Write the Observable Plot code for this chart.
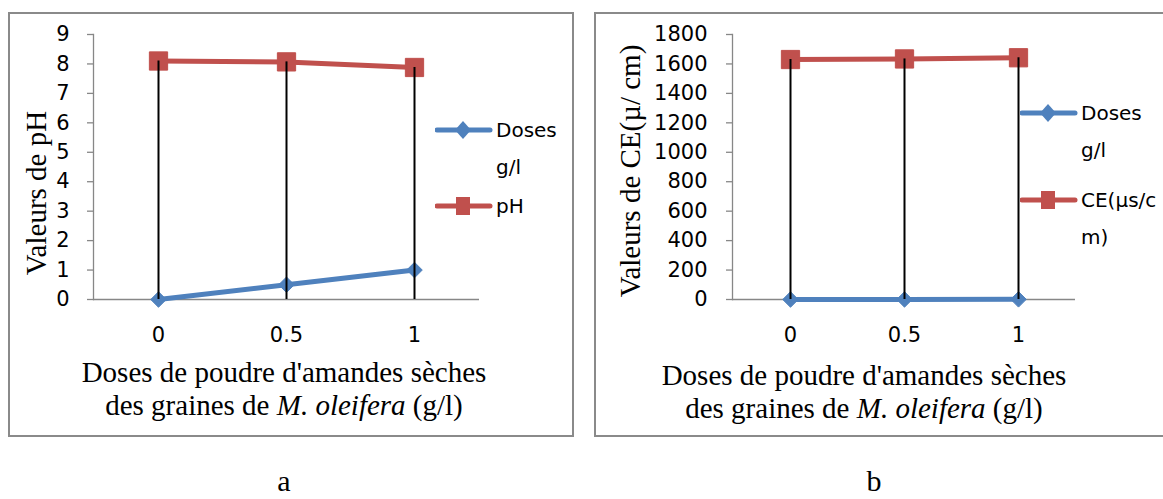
<!DOCTYPE html>
<html>
<head>
<meta charset="utf-8">
<script src="https://cdn.jsdelivr.net/npm/d3@7"></script>
<script src="https://cdn.jsdelivr.net/npm/@observablehq/plot@0.6"></script>
<style>
  html, body { margin: 0; padding: 0; background: #fff; }
  body { width: 1163px; height: 499px; position: relative; overflow: hidden; }
  .box { position: absolute; border: 2px solid #8a8a8a; box-sizing: border-box; }
  .chart { position: absolute; top: 0; }
  .serif { position: absolute; font-family: "Liberation Serif", "Times New Roman", serif; font-size: 29px; color: #000; white-space: nowrap; line-height: 1; transform: translate(-50%, -50%); }
  .ytitle { position: absolute; font-family: "Liberation Serif", "Times New Roman", serif; font-size: 29px; color: #000; white-space: nowrap; line-height: 1; transform: translate(-50%, -50%) rotate(-90deg); }
  .leg { position: absolute; font-family: "DejaVu Sans", sans-serif; font-size: 20px; color: #000; white-space: nowrap; line-height: 1; transform: translateY(-50%); }
  .sw { position: absolute; transform: translateY(-50%); }
  .tag { position: absolute; font-family: "Liberation Serif", "Times New Roman", serif; font-size: 30px; color: #000; line-height: 1; transform: translateX(-50%); }
</style>
</head>
<body>
<div class="box" style="left:8px;top:12px;width:566px;height:425px;"></div>
<div class="box" style="left:594px;top:12px;width:600px;height:425px;"></div>
<div id="chartA" class="chart" style="left:0px;"></div>
<div id="chartB" class="chart" style="left:580px;"></div>

<div class="ytitle" style="left:36px;top:193px;">Valeurs de pH</div>
<div class="ytitle" style="left:630px;top:171px;">Valeurs de CE(µ/ cm)</div>

<div class="serif" style="left:284px;top:372px;">Doses de poudre d'amandes sèches</div>
<div class="serif" style="left:284px;top:405px;">des graines de <i>M. oleifera</i> (g/l)</div>
<div class="serif" style="left:864px;top:375px;">Doses de poudre d'amandes sèches</div>
<div class="serif" style="left:864px;top:408px;">des graines de <i>M. oleifera</i> (g/l)</div>

<div id="legends"></div>

<div class="tag" style="left:284px;top:466px;">a</div>
<div class="tag" style="left:874px;top:466px;">b</div>

<script>
// ---- data ----
const doseCategories = ["0", "0.5", "1"];
const dosesSeries = [0, 0.5, 1];          // "Doses g/l" series (both panels)
const pHValues = [8.1, 8.07, 7.88];       // panel a
const ceValues = [1630, 1634, 1642];      // panel b
const yTicksA = [0, 1, 2, 3, 4, 5, 6, 7, 8, 9];
const yTicksB = [0, 200, 400, 600, 800, 1000, 1200, 1400, 1600, 1800];
const seriesNamesA = ["Doses\ng/l", "pH"];
const seriesNamesB = ["Doses\ng/l", "CE(µs/c\nm)"];

const BLUE = "#4f81bd";
const RED = "#c0504d";
const GRAY = "#878787";

const tableA = doseCategories.map((d, i) => ({dose: d, doses: dosesSeries[i], value: pHValues[i]}));
const tableB = doseCategories.map((d, i) => ({dose: d, doses: dosesSeries[i], value: ceValues[i]}));

function panel(table, yDomain, yTicks, opts) {
  return Plot.plot({
    width: opts.width,
    height: 440,
    marginLeft: opts.marginLeft,
    marginRight: opts.marginRight,
    marginTop: 34,
    marginBottom: 141,
    x: {type: "band", domain: doseCategories, padding: 0, axis: null},
    y: {domain: yDomain, axis: null},
    style: {fontFamily: "'DejaVu Sans', sans-serif", fontSize: "21px", color: "#000", background: "transparent", overflow: "visible"},
    marks: [
      Plot.frame({anchor: "left", stroke: GRAY, strokeWidth: 1.3}),
      Plot.ruleY([0], {stroke: GRAY, strokeWidth: 1.3}),
      Plot.axisY({ticks: yTicks, tickSize: 6, tickPadding: opts.tickPadding, stroke: GRAY, strokeWidth: 1.3, fontSize: 21, label: null, tickFormat: d => String(d)}),
      Plot.axisX({tickSize: 0, tickPadding: 28, fontSize: 21, label: null}),
      Plot.line(table, {x: "dose", y: "doses", stroke: BLUE, strokeWidth: 5}),
      Plot.line(table, {x: "dose", y: "value", stroke: RED, strokeWidth: 5}),
      Plot.dot(table, {x: "dose", y: "doses", symbol: "diamond2", r: 7, fill: BLUE, stroke: BLUE, strokeWidth: 1}),
      Plot.dot(table, {x: "dose", y: "value", symbol: "square", r: 10.3, fill: RED, stroke: RED, strokeWidth: 1}),
      Plot.ruleX(table, {x: "dose", y1: 0, y2: "value", stroke: "#000", strokeWidth: 2})
    ]
  });
}

document.getElementById("chartA").append(
  panel(tableA, [0, 9], yTicksA, {width: 580, marginLeft: 93, marginRight: 101, tickPadding: 18})
);
document.getElementById("chartB").append(
  panel(tableB, [0, 1800], yTicksB, {width: 583, marginLeft: 152, marginRight: 88, tickPadding: 19})
);

// ---- legends (HTML) ----
function swatch(x, y, color, kind) {
  const ns = "http://www.w3.org/2000/svg";
  const svg = document.createElementNS(ns, "svg");
  svg.setAttribute("width", 58); svg.setAttribute("height", 22);
  svg.setAttribute("class", "sw");
  svg.style.left = x + "px"; svg.style.top = y + "px";
  const line = document.createElementNS(ns, "line");
  line.setAttribute("x1", 2); line.setAttribute("x2", 55); line.setAttribute("y1", 11); line.setAttribute("y2", 11);
  line.setAttribute("stroke", color); line.setAttribute("stroke-width", 5); line.setAttribute("stroke-linecap", "round");
  svg.append(line);
  let m;
  if (kind === "diamond") {
    m = document.createElementNS(ns, "path");
    m.setAttribute("d", "M28,2 L36,11 L28,20 L20,11 Z");
  } else {
    m = document.createElementNS(ns, "rect");
    m.setAttribute("x", 21); m.setAttribute("y", 2); m.setAttribute("width", 14); m.setAttribute("height", 18);
  }
  m.setAttribute("fill", color);
  svg.append(m);
  document.getElementById("legends").append(svg);
}
function legText(x, y, txt) {
  const d = document.createElement("div");
  d.className = "leg";
  d.style.left = x + "px"; d.style.top = y + "px";
  d.textContent = txt;
  document.getElementById("legends").append(d);
}
function legend(entries, x, ys, lineGap) {
  entries.forEach((e, i) => {
    swatch(x - 1, ys[i], e.color, e.kind);
    e.name.split("\n").forEach((ln, j) => legText(x + 60, ys[i] + j * lineGap, ln));
  });
}
legend([{name: seriesNamesA[0], color: BLUE, kind: "diamond"}, {name: seriesNamesA[1], color: RED, kind: "square"}], 436, [130, 206], 37);
legend([{name: seriesNamesB[0], color: BLUE, kind: "diamond"}, {name: seriesNamesB[1], color: RED, kind: "square"}], 1021, [113, 200], 37);
</script>
</body>
</html>
